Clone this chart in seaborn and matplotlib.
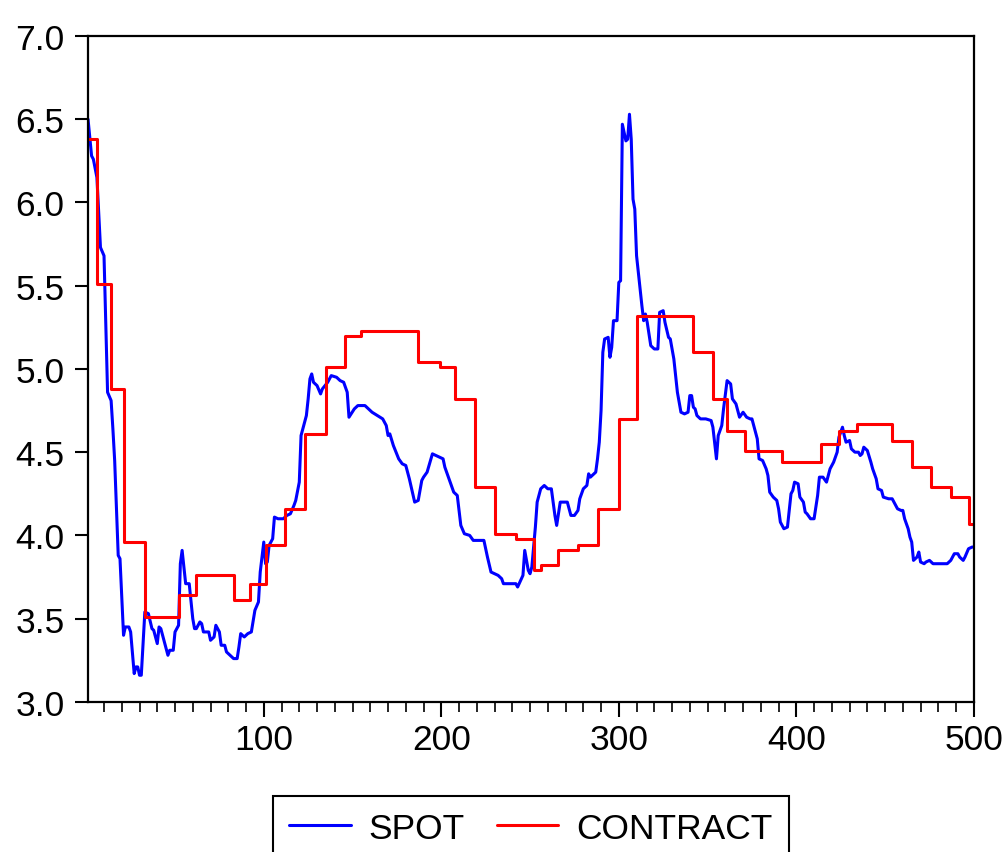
import numpy as np
import pandas as pd
import seaborn as sns
import matplotlib
matplotlib.use("Agg")
import matplotlib.pyplot as plt
from matplotlib.ticker import MultipleLocator, FixedLocator

# ---------------- data ----------------
spot_x = [1, 3, 4, 6, 8, 10, 12, 14, 15, 16, 18, 19, 21, 22, 24, 25, 27, 28, 29, 30,
          31, 33, 35, 37, 38, 40, 41, 42, 44, 46, 47, 49, 50, 52, 53, 54, 56, 58, 60, 61,
          62, 64, 65, 66, 69, 70, 72, 73, 75, 76, 78, 79, 81, 83, 85, 86, 87, 89, 91, 93,
          95, 97, 98, 100, 101, 102, 103, 105, 106, 108, 111, 113, 115, 117, 118, 120, 121, 124, 125, 126,
          127, 128, 130, 132, 133, 136, 138, 141, 143, 145, 147, 148, 151, 153, 157, 159, 161, 164, 167, 169,
          170, 171, 173, 176, 178, 180, 182, 185, 187, 189, 190, 192, 195, 197, 199, 201, 202, 204, 207, 209,
          211, 213, 216, 218, 224, 226, 228, 232, 234, 235, 242, 243, 246, 247, 249, 250, 251, 253, 254, 256,
          258, 260, 262, 264, 265, 267, 269, 271, 273, 275, 277, 278, 280, 282, 283, 284, 287, 288, 289, 290,
          291, 292, 294, 295, 296, 297, 299, 300, 301, 302, 304, 305, 306, 307, 308, 309, 310, 311, 313, 314,
          315, 316, 318, 320, 322, 323, 325, 326, 328, 329, 331, 333, 335, 337, 339, 340, 341, 342, 343, 344,
          346, 349, 352, 353, 355, 356, 358, 359, 361, 363, 364, 366, 368, 370, 372, 374, 375, 377, 378, 379,
          381, 383, 384, 385, 387, 389, 390, 391, 393, 395, 397, 398, 399, 401, 402, 404, 405, 406, 408, 410,
          412, 413, 415, 417, 419, 421, 423, 424, 426, 427, 428, 430, 431, 433, 435, 436, 437, 438, 440, 442,
          443, 445, 446, 448, 449, 452, 454, 455, 457, 459, 460, 461, 463, 464, 465, 466, 468, 469, 470, 472,
          473, 475, 477, 485, 487, 489, 491, 492, 494, 495, 497, 499, 500]
spot_y = [6.50, 6.28, 6.26, 6.15, 5.73, 5.68, 4.86, 4.81, 4.64, 4.45, 3.88, 3.86, 3.40, 3.45, 3.45, 3.42, 3.17, 3.21, 3.21, 3.16,
          3.16, 3.54, 3.53, 3.44, 3.43, 3.35, 3.45, 3.44, 3.36, 3.28, 3.31, 3.31, 3.42, 3.46, 3.83, 3.91, 3.71, 3.71, 3.50, 3.44,
          3.44, 3.48, 3.47, 3.42, 3.42, 3.37, 3.39, 3.46, 3.42, 3.34, 3.34, 3.30, 3.28, 3.26, 3.26, 3.33, 3.41, 3.39, 3.41, 3.42,
          3.55, 3.60, 3.78, 3.96, 3.83, 3.84, 3.94, 3.98, 4.11, 4.10, 4.10, 4.12, 4.13, 4.18, 4.21, 4.32, 4.60, 4.72, 4.82, 4.94,
          4.97, 4.92, 4.90, 4.85, 4.88, 4.92, 4.96, 4.95, 4.93, 4.92, 4.86, 4.71, 4.76, 4.78, 4.78, 4.76, 4.74, 4.72, 4.70, 4.66,
          4.60, 4.61, 4.54, 4.46, 4.43, 4.42, 4.34, 4.20, 4.21, 4.33, 4.35, 4.38, 4.49, 4.48, 4.47, 4.46, 4.41, 4.35, 4.26, 4.24,
          4.06, 4.01, 4.00, 3.97, 3.97, 3.87, 3.78, 3.76, 3.74, 3.71, 3.71, 3.69, 3.76, 3.91, 3.79, 3.77, 3.81, 4.05, 4.20, 4.28,
          4.30, 4.28, 4.28, 4.12, 4.06, 4.20, 4.20, 4.20, 4.12, 4.12, 4.15, 4.22, 4.28, 4.30, 4.37, 4.35, 4.38, 4.46, 4.56, 4.75,
          5.10, 5.18, 5.19, 5.07, 5.13, 5.29, 5.29, 5.52, 5.53, 6.47, 6.37, 6.38, 6.53, 6.38, 6.02, 5.96, 5.68, 5.58, 5.38, 5.29,
          5.33, 5.28, 5.14, 5.12, 5.12, 5.34, 5.35, 5.28, 5.19, 5.18, 5.06, 4.86, 4.74, 4.73, 4.74, 4.84, 4.84, 4.77, 4.76, 4.72,
          4.70, 4.70, 4.69, 4.65, 4.46, 4.60, 4.66, 4.76, 4.93, 4.91, 4.82, 4.79, 4.71, 4.74, 4.71, 4.70, 4.70, 4.62, 4.58, 4.46,
          4.45, 4.40, 4.36, 4.26, 4.23, 4.21, 4.16, 4.08, 4.04, 4.05, 4.25, 4.27, 4.32, 4.31, 4.23, 4.20, 4.14, 4.13, 4.10, 4.10,
          4.24, 4.35, 4.35, 4.32, 4.40, 4.44, 4.50, 4.59, 4.65, 4.60, 4.56, 4.57, 4.52, 4.50, 4.50, 4.48, 4.49, 4.53, 4.51, 4.44,
          4.40, 4.34, 4.28, 4.27, 4.23, 4.22, 4.22, 4.20, 4.16, 4.15, 4.15, 4.10, 4.04, 3.99, 3.96, 3.85, 3.87, 3.90, 3.84, 3.83,
          3.84, 3.85, 3.83, 3.83, 3.85, 3.89, 3.89, 3.87, 3.85, 3.87, 3.92, 3.93, 3.93]

contract_x = [1, 6, 14, 21, 33, 52, 62, 83, 92, 101, 112, 123, 135, 146, 155, 187, 199, 208, 219, 230,
              242, 252, 256, 266, 277, 288, 300, 310, 342, 353, 361, 371, 392, 414, 424, 434, 454, 465, 476, 487,
              497, 500]
contract_y = [6.38, 5.51, 4.88, 3.96, 3.51, 3.64, 3.76, 3.61, 3.71, 3.94, 4.16, 4.61, 5.01, 5.20, 5.23, 5.04, 5.01, 4.82, 4.29, 4.01,
              3.98, 3.79, 3.82, 3.91, 3.94, 4.16, 4.70, 5.32, 5.10, 4.82, 4.63, 4.51, 4.44, 4.55, 4.63, 4.67, 4.57, 4.41, 4.29, 4.23,
              4.07, 4.07]

series_names = ["SPOT", "CONTRACT"]
y_ticks = [3.0, 3.5, 4.0, 4.5, 5.0, 5.5, 6.0, 6.5, 7.0]
x_ticks = [100, 200, 300, 400, 500]

spot_df = pd.DataFrame({"obs": spot_x, "value": spot_y})
contract_df = pd.DataFrame({"obs": contract_x, "value": contract_y})

# ---------------- style ----------------
sns.set_style("ticks")
plt.rcParams["font.family"] = ["Liberation Sans", "DejaVu Sans"]
plt.rcParams["text.color"] = "black"
plt.rcParams["xtick.color"] = "black"
plt.rcParams["ytick.color"] = "black"
plt.rcParams["axes.edgecolor"] = "black"
plt.rcParams["axes.linewidth"] = 1.5

fig = plt.figure(figsize=(10.05, 8.53), dpi=100)
ax = fig.add_axes([0.0876, 0.176, 0.969 - 0.0876, 0.9566 - 0.176])

sns.lineplot(data=spot_df, x="obs", y="value", ax=ax, color="#0000FF", lw=2.0,
             label=series_names[0], estimator=None, sort=False)
sns.lineplot(data=contract_df, x="obs", y="value", ax=ax, color="#FF0000", lw=2.0,
             label=series_names[1], estimator=None, sort=False, drawstyle="steps-post")
for ln in ax.lines:
    ln.set_linewidth(2.2)

ax.set_xlim(1, 500)
ax.set_ylim(3.0, 7.0)
ax.set_xlabel("")
ax.set_ylabel("")

ax.yaxis.set_major_locator(FixedLocator(y_ticks))
ax.set_yticklabels([f"{v:.1f}" for v in y_ticks])
ax.xaxis.set_major_locator(FixedLocator(x_ticks))
ax.xaxis.set_minor_locator(MultipleLocator(10))

for s in ax.spines.values():
    s.set_visible(True)
    s.set_color("black")
    s.set_linewidth(1.6)

ax.tick_params(axis="y", which="major", direction="out", length=9.5, width=1.5,
               labelsize=25.5, pad=7.5, colors="black", left=True, right=False)
ax.tick_params(axis="x", which="major", direction="out", length=11, width=1.5,
               labelsize=25.5, pad=4, colors="black", bottom=True, top=False)
ax.tick_params(axis="x", which="minor", direction="out", length=7, width=1.2,
               bottom=True, top=False)
ax.grid(False)

leg = ax.legend(loc="upper center", bbox_to_anchor=(0.528, 0.0657),
                bbox_transform=fig.transFigure, ncol=2, frameon=True, fancybox=False,
                edgecolor="black", framealpha=1, fontsize=25.5, handlelength=1.75,
                handletextpad=0.5, columnspacing=0.9, borderpad=0.45, borderaxespad=0)
leg.get_frame().set_linewidth(1.5)
for t in leg.get_texts():
    t.set_color("black")
for h in leg.get_lines():
    h.set_linewidth(2.2)

fig.savefig("out.png", dpi=100)
